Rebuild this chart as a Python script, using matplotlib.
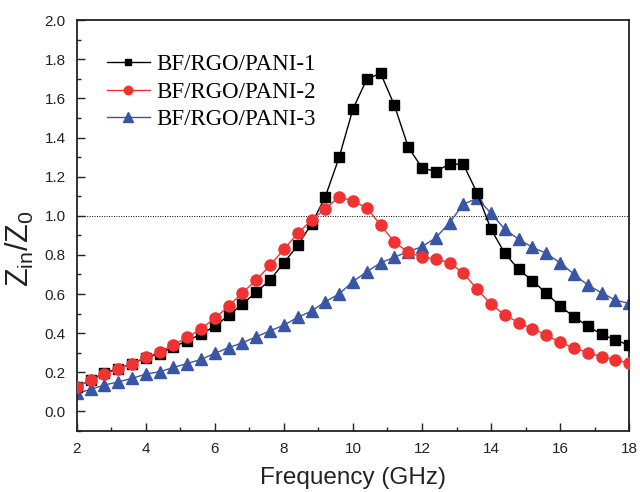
import matplotlib
matplotlib.use("Agg")
import matplotlib.pyplot as plt
from matplotlib.ticker import MultipleLocator

# frequencies (GHz), one point every 0.4 GHz
freq = [2.0 + 0.4 * i for i in range(41)]

zin_1 = [0.125, 0.160, 0.197, 0.218, 0.245, 0.273, 0.296, 0.330, 0.361, 0.395,
         0.436, 0.491, 0.549, 0.610, 0.672, 0.760, 0.849, 0.958, 1.098, 1.299,
         1.546, 1.698, 1.729, 1.565, 1.352, 1.245, 1.226, 1.265, 1.263, 1.115,
         0.931, 0.808, 0.726, 0.668, 0.604, 0.539, 0.484, 0.436, 0.395, 0.365,
         0.339]
zin_2 = [0.126, 0.160, 0.191, 0.215, 0.245, 0.276, 0.305, 0.341, 0.378, 0.423,
         0.476, 0.539, 0.607, 0.672, 0.747, 0.829, 0.910, 0.979, 1.035, 1.098,
         1.075, 1.041, 0.953, 0.866, 0.813, 0.788, 0.779, 0.760, 0.706, 0.625,
         0.547, 0.493, 0.453, 0.423, 0.390, 0.353, 0.326, 0.300, 0.279, 0.262,
         0.249]
zin_3 = [0.092, 0.113, 0.135, 0.151, 0.169, 0.191, 0.203, 0.225, 0.245, 0.266,
         0.297, 0.326, 0.351, 0.382, 0.412, 0.441, 0.481, 0.513, 0.561, 0.601,
         0.664, 0.714, 0.760, 0.788, 0.817, 0.842, 0.888, 0.965, 1.060, 1.089,
         1.013, 0.931, 0.880, 0.839, 0.808, 0.760, 0.702, 0.646, 0.607, 0.569,
         0.552]

labels = ["BF/RGO/PANI-1", "BF/RGO/PANI-2", "BF/RGO/PANI-3"]

fig = plt.figure(figsize=(6.4, 4.92), dpi=100)
ax = fig.add_axes([0.120, 0.124, 0.863, 0.835])

ax.axhline(1.0, color="black", lw=0.7, ls=(0, (1, 1.5)), zorder=1)

ax.plot(freq, zin_1, color="black", lw=1.0, marker="s", ms=6.5,
        mec="black", mfc="black", label=labels[0], zorder=3)
ax.plot(freq, zin_2, color="#f03232", lw=1.0, marker="o", ms=8,
        mec="#f03232", mfc="#f03232", label=labels[1], zorder=4)
ax.plot(freq, zin_3, color="#3a55a4", lw=1.0, marker="^", ms=9,
        mec="#3a55a4", mfc="#3a55a4", label=labels[2], zorder=2)

ax.set_xlim(2, 18)
ax.set_ylim(-0.1, 2.0)
ax.xaxis.set_major_locator(MultipleLocator(2))
ax.xaxis.set_minor_locator(MultipleLocator(1))
ax.yaxis.set_minor_locator(MultipleLocator(0.1))
ax.set_yticks([0.0, 0.2, 0.4, 0.6, 0.8, 1.0, 1.2, 1.4, 1.6, 1.8, 2.0])
ax.set_yticklabels(["0.0", "0.2", "0.4", "0.6", "0.8", "1.0", "1.2",
                    "1.4", "1.6", "1.8", "2.0"])

ax.tick_params(which="both", direction="in", top=False, right=False,
               labelsize=11, width=1.0, colors="#222222", labelcolor="#222222")
ax.tick_params(which="major", length=6, pad=8)
ax.tick_params(which="minor", length=3)
for sp in ax.spines.values():
    sp.set_linewidth(1.3)
    sp.set_color("#222222")

for lab in ax.get_xticklabels() + ax.get_yticklabels():
    lab.set_family("Liberation Sans")

ax.set_xlabel("Frequency (GHz)", fontsize=17.5, family="Liberation Sans",
              color="#222222", labelpad=8)
ax.set_ylabel(r"$\mathregular{Z_{in}/Z_0}$", fontsize=22,
              family="Liberation Sans", color="#222222")
ax.yaxis.set_label_coords(-0.074, 0.445)

ax.legend(loc="upper left", bbox_to_anchor=(0.054, 0.917), frameon=False,
          prop={"family": "Liberation Serif", "size": 16.5},
          handlelength=1.9, handletextpad=0.25, labelspacing=0.28,
          markerscale=0.75, borderpad=0, borderaxespad=0)

fig.savefig("out.png", dpi=100)
